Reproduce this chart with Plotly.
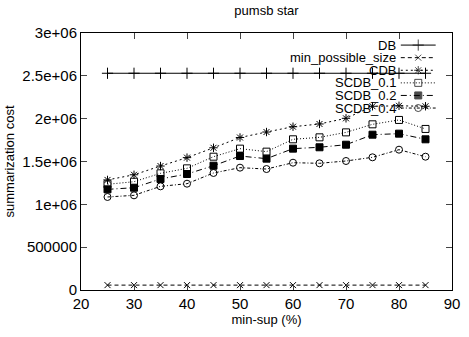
import plotly.graph_objects as go

min_sup = [25, 30, 35, 40, 45, 50, 55, 60, 65, 70, 75, 80, 85]
db = [2530000] * 13
min_possible_size = [57000] * 13
cdb = [1285000, 1345000, 1447000, 1545000, 1660000, 1780000, 1844000, 1906000, 1938000, 2004000, 2145000, 2150000, 2145000]
scdb_01 = [1234000, 1264000, 1362000, 1420000, 1556000, 1650000, 1615000, 1759000, 1782000, 1840000, 1934000, 1985000, 1880000]
scdb_02 = [1175000, 1194000, 1296000, 1354000, 1451000, 1564000, 1533000, 1650000, 1666000, 1696000, 1813000, 1825000, 1759000]
scdb_04 = [1086000, 1105000, 1210000, 1241000, 1366000, 1428000, 1412000, 1486000, 1479000, 1506000, 1549000, 1638000, 1556000]

y_tickvals = [0, 500000, 1000000, 1500000, 2000000, 2500000, 3000000]
y_ticktext = ["0", "500000", "1e+06", "1.5e+06", "2e+06", "2.5e+06", "3e+06"]
x_tickvals = [20, 30, 40, 50, 60, 70, 80, 90]

series = [
    ("DB", db, "solid", "cross-thin", 8),
    ("min_possible_size", min_possible_size, "4px,3px", "x-thin", 6),
    ("CDB", cdb, "2px,3px", "asterisk", 7),
    ("SCDB_0.1", scdb_01, "1px,2px", "square-open", 7),
    ("SCDB_0.2", scdb_02, "6px,3px,1px,3px", "square", 7),
    ("SCDB_0.4", scdb_04, "3px,2px,1px,2px", "circle-open", 7),
]

FONT = "Liberation Sans, Arial, sans-serif"
FS = 13
TFS = 15
fig = go.Figure()

for name, vals, dash, sym, size in series:
    fig.add_trace(go.Scatter(
        x=min_sup, y=vals, mode="lines+markers", name=name,
        line=dict(color="black", width=1, dash=dash),
        marker=dict(symbol=sym, size=size, color="black",
                    line=dict(color="black", width=1)),
        showlegend=False,
    ))

# gnuplot-style key: text right-aligned, sample to the right
key_top = 0.953
key_step = 0.049
key_text_x = 0.855
key_x = [0.862, 0.909, 0.956]
for i, (name, vals, dash, sym, size) in enumerate(series):
    ky = key_top - i * key_step
    fig.add_trace(go.Scatter(
        x=key_x, y=[ky] * 3, xaxis="x2", yaxis="y2",
        mode="lines+markers",
        line=dict(color="black", width=1, dash=dash),
        marker=dict(symbol=sym, size=[0, size, 0], color="black",
                    line=dict(color="black", width=1)),
        showlegend=False, hoverinfo="skip",
    ))
    fig.add_annotation(x=key_text_x, y=ky, xref="paper", yref="paper",
                       text=name, showarrow=False, xanchor="right",
                       yanchor="middle", font=dict(size=FS, color="black", family=FONT))

fig.update_layout(
    width=469, height=337,
    margin=dict(l=76, r=9, t=33, b=47),
    paper_bgcolor="white", plot_bgcolor="white",
    font=dict(family=FONT, size=FS, color="black"),
    title=dict(text="pumsb star", x=0.5, xref="paper", y=1 - 10 / 337,
               yanchor="middle", font=dict(size=FS, family=FONT)),
    xaxis=dict(range=[20, 90], tickvals=x_tickvals, ticks="inside", ticklen=6,
               showline=True, linecolor="black", linewidth=1, mirror="ticks",
               showgrid=False, zeroline=False,
               tickfont=dict(size=TFS, family=FONT),
               title=dict(text="min-sup (%)", standoff=3,
                          font=dict(size=FS, family=FONT))),
    yaxis=dict(range=[0, 3000000], tickvals=y_tickvals, ticktext=y_ticktext,
               ticks="inside", ticklen=6, showline=True, linecolor="black",
               linewidth=1, mirror="ticks", showgrid=False, zeroline=False,
               tickfont=dict(size=TFS, family=FONT),
               title=dict(text="summarization cost", standoff=4,
                          font=dict(size=FS, family=FONT))),
    xaxis2=dict(range=[0, 1], overlaying="x", visible=False),
    yaxis2=dict(range=[0, 1], overlaying="y", visible=False),
)

fig.write_html("out.html")
